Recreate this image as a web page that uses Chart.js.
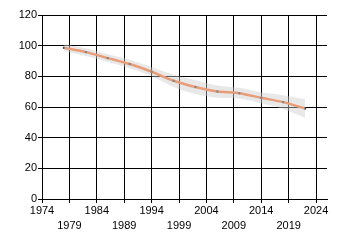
<!DOCTYPE html>
<html>
<head>
<meta charset="utf-8">
<script src="https://cdn.jsdelivr.net/npm/chart.js@4"></script>
<style>
  html, body { margin: 0; padding: 0; background: #fff; }
  #wrap { width: 340px; height: 245px; }
</style>
</head>
<body>
<div id="wrap"><canvas id="trendChart"></canvas></div>
<script>
// ======================================
// Data
// ======================================

const years = [1978, 1982, 1986, 1990, 1994, 1998, 2002, 2006, 2010, 2014, 2018, 2022];
const values = [98.6, 95.8, 91.9, 88, 83, 77.1, 73, 70.1, 69, 66, 63.2, 59];
const bandLow = [96.3, 93.3, 89.4, 85.2, 80, 73.1, 68.5, 66.1, 65.5, 62.4, 58.7, 53];
const bandHigh = [100.9, 98.3, 94.4, 90.8, 86, 81.1, 77.5, 74.1, 72.5, 69.6, 67.7, 65];

const xTickYears = [1974, 1979, 1984, 1989, 1994, 1999, 2004, 2009, 2014, 2019, 2024];
const yTickValues = [0, 20, 40, 60, 80, 100, 120];

// ======================================
// Helpers
// ======================================

function toPoints(ys){

    return years.map((x, i) => ({ x: x, y: ys[i] }));

}

const font = { family: "Liberation Sans", size: 11, lineHeight: 1.4 };

// ======================================
// Chart
// ======================================

const ctx =
    document
    .getElementById("trendChart");

new Chart(ctx, {

    type: "line",

    data: {

        datasets: [

            {
                label: "low",
                data: toPoints(bandLow),
                borderWidth: 0,
                pointRadius: 0,
                tension: 0.3,
                fill: false
            },

            {
                label: "high",
                data: toPoints(bandHigh),
                borderWidth: 0,
                pointRadius: 0,
                tension: 0.3,
                backgroundColor: "rgba(205,205,205,0.45)",
                fill: "-1"
            },

            {
                label: "value",
                data: toPoints(values),
                borderColor: "#ff7733",
                borderWidth: 2.5,
                tension: 0.2,
                pointStyle: "rect",
                pointRadius: 1.5,
                pointBackgroundColor: "#4a4a4a",
                pointBorderColor: "#4a4a4a",
                pointBorderWidth: 0,
                fill: false
            }

        ]

    },

    options: {

        responsive: true,
        maintainAspectRatio: false,
        animation: false,

        layout: {
            padding: { top: 15, right: 13, bottom: 0, left: 0 }
        },

        plugins: {
            legend: { display: false },
            tooltip: { enabled: false }
        },

        scales: {

            x: {
                type: "linear",
                min: 1974,
                max: 2026,
                afterBuildTicks: scale => {
                    scale.ticks = xTickYears.map(v => ({ value: v }));
                },
                afterFit: scale => { scale.height = 46; },
                grid: {
                    color: "#000",
                    lineWidth: 1,
                    tickLength: 4,
                    drawTicks: true
                },
                border: { color: "#000", width: 1 },
                ticks: {
                    autoSkip: false,
                    maxRotation: 0,
                    padding: 0,
                    color: "#000",
                    font: font,
                    callback: (v, i) => i % 2 === 0 ? [String(v), ""] : ["", String(v)]
                }
            },

            y: {
                min: 0,
                max: 120,
                afterBuildTicks: scale => {
                    scale.ticks = yTickValues.map(v => ({ value: v }));
                },
                afterFit: scale => { scale.width = 42; },
                grid: {
                    color: "#000",
                    lineWidth: 1,
                    tickLength: 4
                },
                border: { color: "#000", width: 1 },
                ticks: {
                    padding: 1,
                    color: "#000",
                    font: font
                }
            }

        }

    }

});
</script>
</body>
</html>
